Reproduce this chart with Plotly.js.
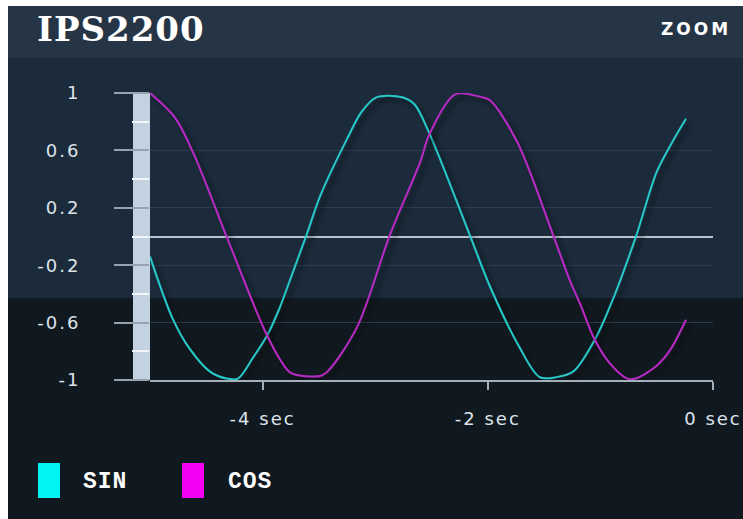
<!DOCTYPE html>
<html>
<head>
<meta charset="utf-8">
<script src="https://cdn.plot.ly/plotly-3.0.1.min.js"></script>
<style>
  html, body { margin:0; padding:0; background:#ffffff; }
  #bg { position:absolute; left:8px; top:6px; width:735px; height:513px;
        background: linear-gradient(to bottom, #253546 0px, #253546 52px, #1b2b3b 52px, #1b2b3b 292px, #111920 292px, #111920 100%); }
  #chart { position:absolute; left:0; top:0; width:743px; height:519px; }
  .xtick text, .ytick text { letter-spacing: 2px; }
  .gtitle { letter-spacing: 1px; }
  .annotation-text { letter-spacing: 1px; }
  .annotation[data-index="0"] .annotation-text { letter-spacing: 3px; }
</style>
</head>
<body>
<div id="bg"></div>
<div id="chart"></div>
<script>
// ---- data ----
const chartTitle = "IPS2200";
const seriesNames = ["SIN", "COS"];

const sinTime   = [-5.00,-4.80,-4.65,-4.47,-4.32,-4.22,-4.09,-3.96,-3.85,-3.76,-3.61,-3.49,-3.25,-3.12,-2.99,-2.76,-2.65,-2.52,-2.16,-1.98,-1.72,-1.54,-1.39,-1.24,-1.05,-0.89,-0.68,-0.50,-0.36,-0.24];
const sinValues = [-0.14,-0.57,-0.78,-0.94,-0.99,-0.99,-0.85,-0.69,-0.50,-0.31, 0.01, 0.28, 0.68, 0.87, 0.97, 0.97, 0.92, 0.72, 0.01,-0.35,-0.77,-0.98,-0.98,-0.94,-0.72,-0.44, 0.01, 0.45, 0.66, 0.82];

const cosTime   = [-5.00,-4.78,-4.62,-4.32,-4.05,-3.96,-3.85,-3.75,-3.48,-3.41,-3.16,-2.87,-2.60,-2.52,-2.29,-2.05,-1.98,-1.74,-1.42,-1.27,-1.18,-1.05,-0.92,-0.76,-0.69,-0.50,-0.38,-0.24];
const cosValues = [ 1.00, 0.83, 0.59, 0.00,-0.53,-0.69,-0.85,-0.95,-0.97,-0.93,-0.63, 0.01, 0.52, 0.71, 0.99, 0.97, 0.95, 0.66, 0.01,-0.31,-0.47,-0.72,-0.88,-0.99,-0.99,-0.90,-0.79,-0.58];

const xTickVals = [-4, -2, 0];
const xTickText = ["-4 sec", "-2 sec", "0 sec"];
const yTickVals = [1, 0.6, 0.2, -0.2, -0.6, -1];
const yTickText = ["1", "0.6", "0.2", "-0.2", "-0.6", "-1"];

// ---- styling ----
const lineColors   = ["#27c8c8", "#b829c4"];
const legendColors = ["#00f4f4", "#f400f4"];
const axisGrey = "#a3afbb";
const tickFont = { family: "DejaVu Sans, sans-serif", size: 18, color: "#dde3ea" };

const data = [
  { x: sinTime, y: sinValues, name: seriesNames[0], type: "scatter", mode: "lines",
    line: { color: lineColors[0], width: 2, shape: "spline", smoothing: 0.9 } },
  { x: cosTime, y: cosValues, name: seriesNames[1], type: "scatter", mode: "lines",
    line: { color: lineColors[1], width: 2, shape: "spline", smoothing: 0.9 } }
];

const W = 563, H = 287; // plot area size in px (for paper positioning)
function px(x) { return (x - 150) / W; }
function py(y) { return (380 - y) / H; }

const layout = {
  width: 743, height: 519,
  margin: { l: 150, r: 30, t: 93, b: 139, pad: 0 },
  paper_bgcolor: "rgba(0,0,0,0)",
  plot_bgcolor: "rgba(0,0,0,0)",
  showlegend: false,
  title: {
    text: chartTitle, xref: "container", yref: "container",
    x: 37/743, xanchor: "left", y: 1 - 29/519, yanchor: "middle",
    font: { family: "DejaVu Serif, serif", size: 34, color: "#ffffff", weight: "bold" }
  },
  xaxis: {
    range: [-5, 0], fixedrange: true,
    showgrid: false, zeroline: false,
    showline: true, linecolor: axisGrey, linewidth: 2,
    ticks: "outside", ticklen: 8, tickwidth: 2, tickcolor: axisGrey,
    tickvals: xTickVals, ticktext: xTickText,
    tickfont: tickFont, ticklabelstandoff: 13
  },
  yaxis: {
    range: [-1, 1], fixedrange: true,
    showgrid: true, gridcolor: "#2c3d4f", gridwidth: 1,
    zeroline: true, zerolinecolor: "#b9c4cf", zerolinewidth: 2,
    showline: false,
    ticks: "outside", ticklen: 35, tickwidth: 2, tickcolor: "#95a3b1",
    tickvals: yTickVals, ticktext: yTickText,
    tickfont: tickFont, ticklabelstandoff: 30,
    minor: { dtick: 0.2, tick0: 0, ticks: "outside", ticklen: 17, tickwidth: 2, tickcolor: "#f4f7fa", showgrid: false }
  },
  yaxis2: {
    overlaying: "y", side: "left", range: [-1, 1], fixedrange: true,
    showgrid: false, zeroline: false, showline: false, showticklabels: false,
    ticks: "outside", ticklen: 17, tickwidth: 2, tickcolor: "#f4f7fa",
    tickvals: yTickVals
  },
  shapes: [
    { type: "rect", xref: "paper", yref: "paper", x0: -17/W, x1: 0, y0: 0, y1: 1,
      fillcolor: "#c3d2e1", line: { width: 0 }, layer: "below" },
    { type: "rect", xref: "paper", yref: "paper", x0: px(38), x1: px(60), y0: py(498), y1: py(463),
      fillcolor: legendColors[0], line: { width: 0 } },
    { type: "rect", xref: "paper", yref: "paper", x0: px(182), x1: px(204), y0: py(498), y1: py(463),
      fillcolor: legendColors[1], line: { width: 0 } }
  ],
  annotations: [
    { text: "ZOOM", xref: "paper", yref: "paper", x: px(729), y: py(29),
      xanchor: "right", yanchor: "middle", showarrow: false,
      font: { family: "DejaVu Sans, sans-serif", size: 17, color: "#ffffff", weight: "bold" } },
    { text: seriesNames[0], xref: "paper", yref: "paper", x: px(81), y: py(482),
      xanchor: "left", yanchor: "middle", showarrow: false,
      font: { family: "Liberation Mono, monospace", size: 23, color: "#ffffff", weight: "bold" } },
    { text: seriesNames[1], xref: "paper", yref: "paper", x: px(226), y: py(482),
      xanchor: "left", yanchor: "middle", showarrow: false,
      font: { family: "Liberation Mono, monospace", size: 23, color: "#ffffff", weight: "bold" } }
  ]
};

Plotly.newPlot("chart", data, layout, { staticPlot: true, displayModeBar: false }).then(function (gd) {
  const ns = "http://www.w3.org/2000/svg";
  const svg = gd.querySelector(".main-svg");
  let defs = svg.querySelector("defs");
  if (!defs) { defs = document.createElementNS(ns, "defs"); svg.insertBefore(defs, svg.firstChild); }
  const f = document.createElementNS(ns, "filter");
  f.setAttribute("id", "lineShadow");
  f.setAttribute("x", "-10%"); f.setAttribute("y", "-10%");
  f.setAttribute("width", "120%"); f.setAttribute("height", "120%");
  const ds = document.createElementNS(ns, "feDropShadow");
  ds.setAttribute("dx", "4"); ds.setAttribute("dy", "4"); ds.setAttribute("stdDeviation", "2.5");
  ds.setAttribute("flood-color", "#000000"); ds.setAttribute("flood-opacity", "0.65");
  f.appendChild(ds);
  defs.appendChild(f);
  gd.querySelectorAll(".scatterlayer .trace .js-line").forEach(function (p) {
    p.setAttribute("filter", "url(#lineShadow)");
  });
});
</script>
</body>
</html>
